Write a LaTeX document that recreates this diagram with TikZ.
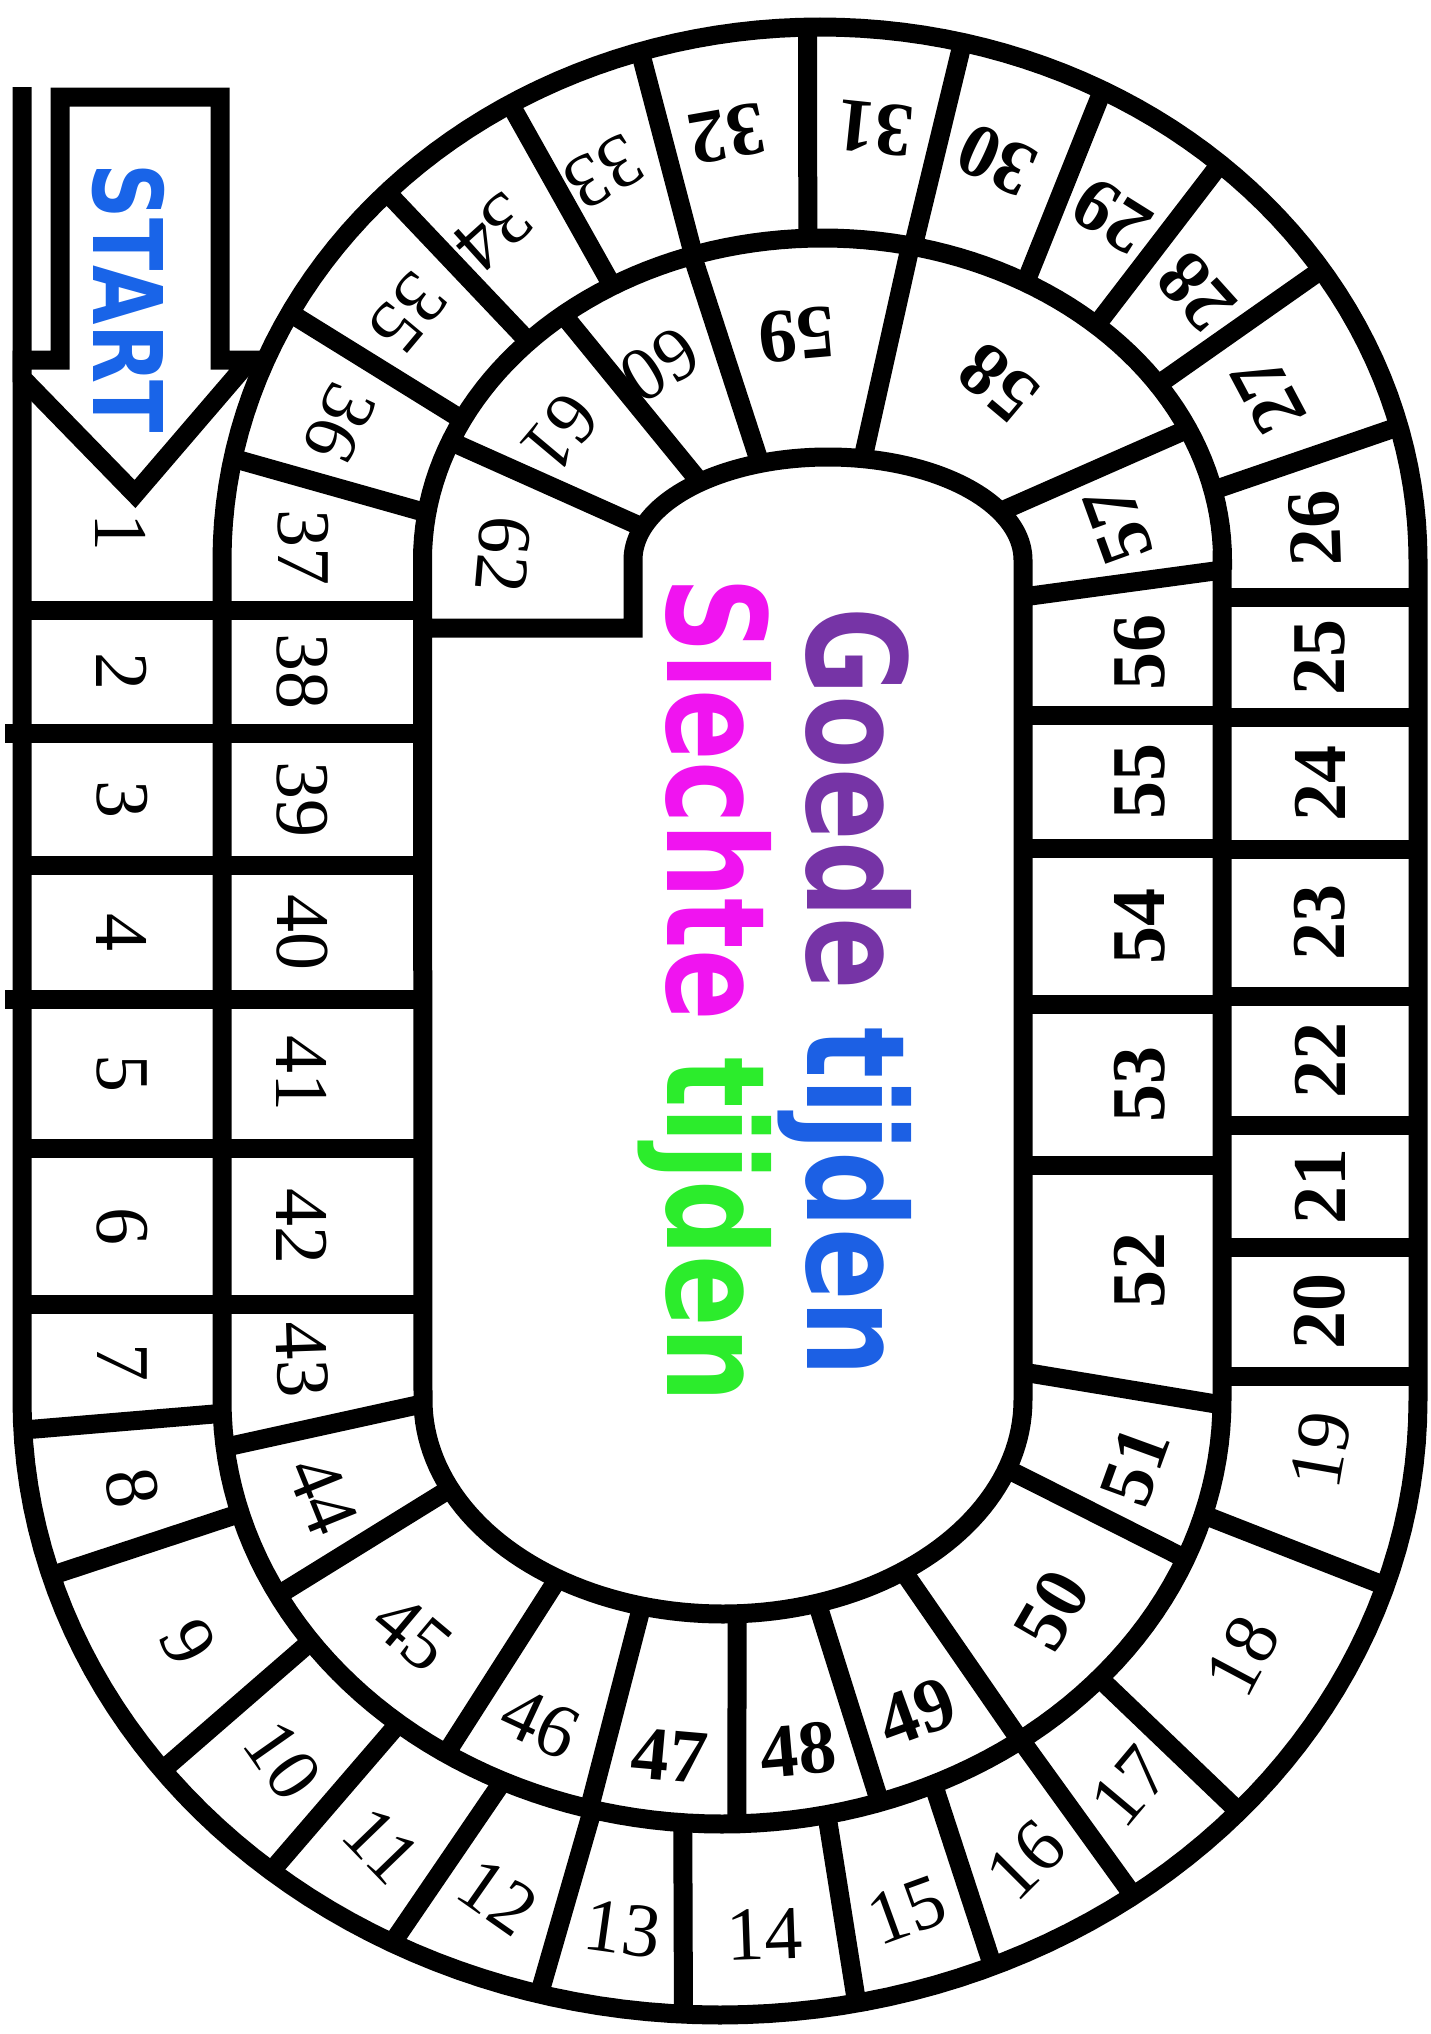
\documentclass[tikz,border=0pt]{standalone}
\usepackage{fontspec}
\setmainfont{Liberation Serif}
\newfontfamily\funfont{DejaVu Sans}
\usepackage{graphicx}
\usepackage{tikz}
\definecolor{startblue}{RGB}{25,100,232}
\definecolor{goedepurple}{RGB}{118,52,166}
\definecolor{tijdenblue}{RGB}{28,96,228}
\definecolor{slechtepink}{RGB}{240,20,240}
\definecolor{tijdengreen}{RGB}{44,236,44}
\tikzstyle{board} = [line width=19pt, line join=miter, samples=91]
\tikzstyle{num}   = [font=\fontsize{76}{80}\selectfont, inner sep=0pt]
\tikzstyle{numb}  = [font=\fontsize{76}{80}\selectfont\bfseries, inner sep=0pt]

\begin{document}
\begin{tikzpicture}[x=1pt, y=-1pt,
    title/.style={rotate=-90, anchor=base, inner sep=0pt,
                  font=\funfont\bfseries\fontsize{137}{140}\selectfont}]
  \fill[white] (0,0) rectangle (1431,2034);
  \useasboundingbox (0,0) rectangle (1431,2034);

  % straight rows
  \foreach \y in {610,865,1148,1304} \draw[board] (22,\y) -- (423,\y);
  \foreach \y in {733,999} \draw[board] (5,\y) -- (423,\y);
  \foreach \y in {597,717,849,996,1125,1247,1376} \draw[board] (1222,\y) -- (1418,\y);
  \foreach \y in {715,848,1004,1165} \draw[board] (1023,\y) -- (1222,\y);
  \draw[board] (1023,597) -- (1222,570);
  \draw[board] (1023,1372) -- (1222,1405);

  % top half
  \foreach \a/\b in {14.5/12.5, 33/33, 48/46.8, 61.8/59.5, 76.2/76.9, 91.2/92.1,
                     107.5/108.8, 121.2/121.7, 136.4/137.3, 152.4/154.2, 169/171.6}
    \draw[board] ({820+598*cos(\a)},{560-533*sin(\a)}) -- ({822.5+400*cos(\b)},{560-322*sin(\b)});
  \foreach \a/\b in {24/28, 77.3/79.7, 109/110.4, 130.4/131, 158.4/161.6}
    \draw[board] ({822.5+400*cos(\a)},{560-322*sin(\a)}) -- ({828+195*cos(\b)},{560-103*sin(\b)});

  % bottom half
  \foreach \a/\b in {182.8/181.8, 196.6/195.5, 217/214.7, 230/229.7, 242/244, 255/255,
                     267/265.5, 281.3/282.1, 293/295, 306.3/306.7, 318/319, 342.4/344.3}
    \draw[board] ({720+698*cos(\a)},{1400-615*sin(\a)}) -- ({722+500*cos(\b)},{1400-424*sin(\b)});
  \foreach \a/\b in {186.4/181, 207.4/204.5, 236.5/236.6, 254.6/254.3, 271.7/272.7,
                     288.4/288.3, 306.6/306.9, 338/341.2}
    \draw[board] ({722+500*cos(\a)},{1400-424*sin(\a)}) -- ({723+300*cos(\b)},{1400-214*sin(\b)});

  % the spiral track
  \draw[board] (22,87) -- (22,1400)
    -- plot[domain=180:360] ({720+698*cos(\x)},{1400-615*sin(\x)})
    -- (1418,560)
    -- plot[domain=0:180] ({820+598*cos(\x)},{560-533*sin(\x)})
    -- (222,1400)
    -- plot[domain=180:360] ({722+500*cos(\x)},{1400-424*sin(\x)})
    -- (1222,560)
    -- plot[domain=0:180] ({822.5+400*cos(\x)},{560-322*sin(\x)})
    -- (423,1400)
    -- plot[domain=180:360] ({723+300*cos(\x)},{1400-214*sin(\x)})
    -- (1023,560)
    -- plot[domain=0:180] ({828+195*cos(\x)},{560-103*sin(\x)})
    -- (633,628) -- (423,628);

  % start arrow
  \draw[board, fill=white] (60,360) -- (60,97) -- (220,97) -- (220,360)
    -- (250,360) -- (135,494) -- (22,378) -- (22,360) -- cycle;
  \draw[board] (240,360) -- (266,360);
  \node[title, text=startblue, font=\funfont\bfseries\fontsize{96}{100}\selectfont]
    (start) at (93,298) {\scalebox{0.8}[1]{START}};

  \foreach \n/\x/\y/\r in {1/121/532/-90, 2/122/671/-90, 3/122/799/-90, 4/122/932/-90,
      5/122/1073/-90, 6/122/1226/-90, 7/122/1362/-90, 8/132/1488/-80, 9/188/1642/-63,
      10/283/1760/-55, 11/382/1845/-46, 12/498/1897/-35, 13/623/1929/-8, 14/765/1934/2,
      15/907/1910/20, 16/1026/1860/45, 17/1130/1786/50, 18/1242/1656/62, 19/1321/1450/80,
      33/604/172/210, 34/493/232/222, 35/408/313/230, 36/340/423/245,
      37/303/547/-90, 38/302/671/-90, 39/302/799/-90, 40/302/932/-90, 41/302/1073/-90,
      42/302/1226/-90, 43/302/1360/-88, 44/323/1495/-68, 45/412/1633/-40, 46/540/1723/-25,
      60/660/365/212, 61/560/433/230, 62/503/555/265}
    \node[num, rotate=\r] (c\n) at (\x,\y) {\n};
  \foreach \n/\x/\y/\r in {20/1320/1311/90, 21/1320/1186/90, 22/1320/1060/90,
      23/1320/922/90, 24/1320/783/90, 25/1320/657/90, 26/1315/528/92, 27/1268/395/118,
      28/1197/292/132, 29/1112/216/148, 30/997/160/155, 31/875/128/174, 32/727/134/190,
      47/670/1756/-5, 48/798/1750/5, 49/917/1712/20, 50/1052/1610/60, 51/1135/1466/70,
      52/1140/1270/90, 53/1140/1084/90, 54/1140/926/90, 55/1140/781/90, 56/1140/652/90,
      57/1118/525/110, 58/998/383/140, 59/797/335/185}
    \node[numb, rotate=\r] (c\n) at (\x,\y) {\n};

  \node[title] (goede) at (807,992)
    {\scalebox{0.78}[1]{\textcolor{goedepurple}{Goede} \textcolor{tijdenblue}{tijden}}};
  \node[title] (slechte) at (667,990)
    {\scalebox{0.77}[1]{\textcolor{slechtepink}{Slechte} \textcolor{tijdengreen}{tijden}}};
\end{tikzpicture}
\end{document}
